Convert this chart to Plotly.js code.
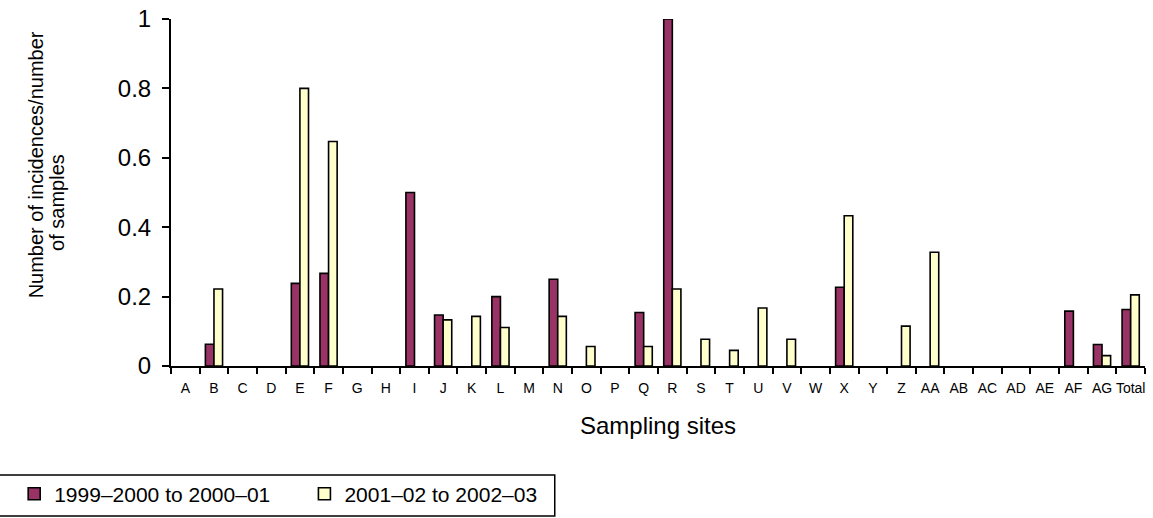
<!DOCTYPE html>
<html>
<head>
<meta charset="utf-8">
<script src="https://cdn.plot.ly/plotly-3.0.1.min.js"></script>
<style>html,body{margin:0;padding:0;background:#fff;}#chart{width:1153px;height:518px;}</style>
</head>
<body>
<div id="chart"></div>
<script>
const sites = ["A","B","C","D","E","F","G","H","I","J","K","L","M","N","O","P","Q","R","S","T","U","V","W","X","Y","Z","AA","AB","AC","AD","AE","AF","AG","Total"];
const period1 = [0,0.0625,0,0,0.238,0.267,0,0,0.5,0.147,0,0.2,0,0.25,0,0,0.154,1,0,0,0,0,0,0.227,0,0,0,0,0,0,0,0.158,0.062,0.163];
const period2 = [0,0.222,0,0,0.8,0.647,0,0,0,0.133,0.143,0.111,0,0.143,0.056,0,0.056,0.222,0.077,0.045,0.167,0.077,0,0.433,0,0.115,0.328,0,0,0,0,0,0.03,0.205];
const seriesNames = ["1999\u20132000 to 2000\u201301\u00a0\u00a0\u00a0\u00a0\u00a0","2001\u201302 to 2002\u201303"];
const yTickVals = [0,0.2,0.4,0.6,0.8,1];
const yTickText = ["0","0.2","0.4","0.6","0.8","1"];
const yTitleLines = ["Number of incidences/number","of samples"];

// zero values draw no visible bar (as in the original chart)
const noZero = vals => vals.map(v => v === 0 ? null : v);

const traces = [
  {type:"bar", x:sites, y:noZero(period1), name:seriesNames[0],
   marker:{color:"#993366", line:{color:"#000", width:1.6}}},
  {type:"bar", x:sites, y:noZero(period2), name:seriesNames[1],
   marker:{color:"#FFFFCC", line:{color:"#000", width:1.6}}}
];
const layout = {
  width:1153, height:518,
  margin:{l:171, r:8, t:19, b:152, autoexpand:false},
  paper_bgcolor:"#fff", plot_bgcolor:"#fff",
  font:{family:"Liberation Sans, Arial, sans-serif", color:"#000"},
  barmode:"group", bargap:0.4, bargroupgap:0,
  showlegend:true,
  legend:{orientation:"h", x:-0.161, xanchor:"left", y:-0.31, yanchor:"top",
    borderwidth:0, bgcolor:"rgba(0,0,0,0)", font:{size:21}},
  xaxis:{type:"category", showline:true, linecolor:"#000", linewidth:2, ticks:"outside", tickson:"boundaries",
    ticklen:6, tickwidth:2, tickcolor:"#000", tickfont:{size:14}, tickangle:0, ticklabelstandoff:8,
    showgrid:false, zeroline:false, automargin:false,
    title:{text:"Sampling sites", font:{size:24}, standoff:22}},
  yaxis:{range:[0,1], tickvals:yTickVals, ticktext:yTickText,
    showline:true, linecolor:"#000", linewidth:2, ticks:"outside", ticklen:7, tickwidth:2, tickcolor:"#000",
    ticklabelstandoff:6, automargin:false,
    tickfont:{size:24}, showgrid:false, zeroline:false},
  shapes:[
    {type:"rect", xref:"paper", yref:"paper", x0:-0.2, x1:0.394, y0:-0.432, y1:-0.314,
     line:{color:"#000", width:1.5}, fillcolor:"rgba(0,0,0,0)", layer:"below"}
  ],
  annotations:[
    {text:yTitleLines[0], textangle:-90, xref:"paper", yref:"paper", x:-0.139, y:0.58,
     xanchor:"center", yanchor:"middle", showarrow:false, font:{size:20}},
    {text:yTitleLines[1], textangle:-90, xref:"paper", yref:"paper", x:-0.117, y:0.47,
     xanchor:"center", yanchor:"middle", showarrow:false, font:{size:20}}
  ]
};
Plotly.newPlot("chart", traces, layout, {displayModeBar:false, staticPlot:true});
</script>
</body>
</html>
